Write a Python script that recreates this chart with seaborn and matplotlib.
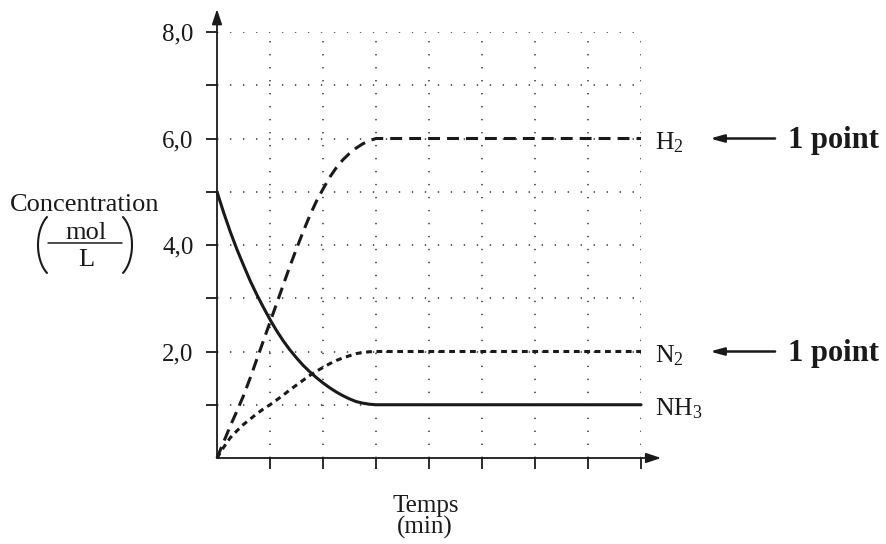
import matplotlib
matplotlib.use("Agg")
import numpy as np
import matplotlib.pyplot as plt
from matplotlib.lines import Line2D
import seaborn as sns

# ---- data ----
time_pts = [0, 0.125, 0.25, 0.375, 0.5, 0.625, 0.75, 0.875, 1, 1.125, 1.25, 1.375,
            1.5, 1.625, 1.75, 1.875, 2, 2.125, 2.25, 2.375, 2.5, 2.625, 2.75, 2.875,
            3, 8]
conc_nh3 = [5.0, 4.61, 4.25, 3.92, 3.62, 3.33, 3.07, 2.83, 2.6, 2.39, 2.2, 2.03,
            1.88, 1.74, 1.62, 1.51, 1.41, 1.32, 1.24, 1.17, 1.11, 1.06, 1.03, 1.01,
            1.0, 1.0]
conc_h2 = [0.0, 0.3, 0.6, 0.88, 1.17, 1.5, 1.85, 2.2, 2.55, 2.9, 3.25, 3.6,
           3.93, 4.25, 4.55, 4.82, 5.05, 5.27, 5.45, 5.6, 5.72, 5.82, 5.9, 5.96,
           6.0, 6.0]
conc_n2 = [0.0, 0.2, 0.38, 0.51, 0.63, 0.73, 0.83, 0.92, 1.0, 1.09, 1.18, 1.28,
           1.37, 1.46, 1.55, 1.63, 1.7, 1.77, 1.83, 1.88, 1.92, 1.96, 1.98, 1.995,
           2.0, 2.0]

x_ticks = [1, 2, 3, 4, 5, 6, 7, 8]
y_ticks = [1, 2, 3, 4, 5, 6, 7, 8]
y_tick_labels = ["", "2,0", "", "4,0", "", "6,0", "", "8,0"]
series_labels = [r"$\mathregular{H_2}$", r"$\mathregular{N_2}$", r"$\mathregular{NH_3}$"]
series_label_y = [6, 2, 1]
point_label = "1 point"
point_label_y = [6, 2]

# ---- style ----
sns.set_style("white")
plt.rcParams["font.family"] = ["Liberation Serif", "DejaVu Serif"]
plt.rcParams["mathtext.fontset"] = "stix"
INK = "#1a1a1a"
plt.rcParams["text.color"] = INK

W, H = 887, 544
fig = plt.figure(figsize=(W / 100, H / 100), dpi=100)
ax = fig.add_axes([217 / W, (H - 458) / H, 424 / W, 426 / H])
ax.set_xlim(0, 8)
ax.set_ylim(0, 8)
for s in ax.spines.values():
    s.set_visible(False)

ax.set_xticks(x_ticks)
ax.set_yticks(y_ticks)
ax.set_yticklabels(y_tick_labels)
ax.tick_params(axis="both", direction="out", length=8, width=1.3, color=INK,
               labelsize=18, labelcolor=INK, left=True, bottom=True)
ax.tick_params(axis="y", pad=9)
ax.tick_params(axis="x", labelbottom=False)
ax.grid(True, color="#333333", lw=1.1, linestyle=(0, (0.9, 7.6)))
ax.set_axisbelow(True)
ax.set_xlabel("")
ax.set_ylabel("")

# axes with arrows
arrow_kw = dict(arrowstyle="-|>,head_length=0.9,head_width=0.3", lw=1.3,
                color=INK, shrinkA=0, shrinkB=0)
ax.annotate("", xy=(0, 8.43), xytext=(0, 0), arrowprops=arrow_kw, annotation_clip=False)
ax.annotate("", xy=(8.38, 0), xytext=(0, 0), arrowprops=arrow_kw, annotation_clip=False)

# curves
LW = 2.2
common = dict(ax=ax, color=INK, lw=LW, clip_on=False, sort=False,
              solid_joinstyle="round", dash_joinstyle="round")
sns.lineplot(x=time_pts, y=conc_nh3, linestyle="-", **common)
sns.lineplot(x=time_pts, y=conc_h2, linestyle=(0, (3.9, 2.3)), **common)
sns.lineplot(x=time_pts, y=conc_n2, linestyle=(0, (1.9, 1.5)), **common)

# series labels
for lab, yv in zip(series_labels, series_label_y):
    ax.text(8.26, yv - 0.2, lab, ha="left", va="baseline", fontsize=18.5,
            clip_on=False)

# "1 point" annotations
for yv in point_label_y:
    ax.annotate("", xy=(9.30, yv), xytext=(10.53, yv),
                arrowprops=dict(arrowstyle="-|>,head_length=0.8,head_width=0.22",
                                lw=1.8, color=INK, shrinkA=0, shrinkB=0),
                annotation_clip=False)
    ax.text(10.77, yv - 0.17, point_label, ha="left", va="baseline",
            fontsize=22, fontweight="bold", clip_on=False)


# ---- axis titles (pixel positions converted to figure fraction) ----
def fx(px):
    return px / W


def fy(py):
    return 1 - py / H


fig.text(fx(85), fy(205), "Concentration", ha="center", va="center", fontsize=19)
fig.text(fx(86), fy(239.5), "mol", ha="center", va="baseline", fontsize=19)
fig.add_artist(Line2D([fx(48), fx(122)], [fy(242.5), fy(242.5)], lw=1.1, color=INK))
fig.text(fx(86), fy(266.5), "L", ha="center", va="baseline", fontsize=19)

# thin large parentheses around the unit fraction
theta = np.deg2rad(np.linspace(123.4, 236.6, 60))
a_ax, b_ax = 20.0, 33.5
px_l = 58 + a_ax * np.cos(theta)
py_l = 245 + b_ax * np.sin(theta)
px_r = 2 * 85 - px_l
for pxs in (px_l, px_r):
    fig.add_artist(Line2D(fx(pxs), fy(py_l), lw=1.5, color=INK,
                          solid_capstyle="round"))

fig.text(fx(426), fy(512), "Temps", ha="center", va="baseline", fontsize=18)
fig.text(fx(425), fy(534), "(min)", ha="center", va="baseline", fontsize=18)

fig.savefig("out.png", dpi=100, facecolor="white")
